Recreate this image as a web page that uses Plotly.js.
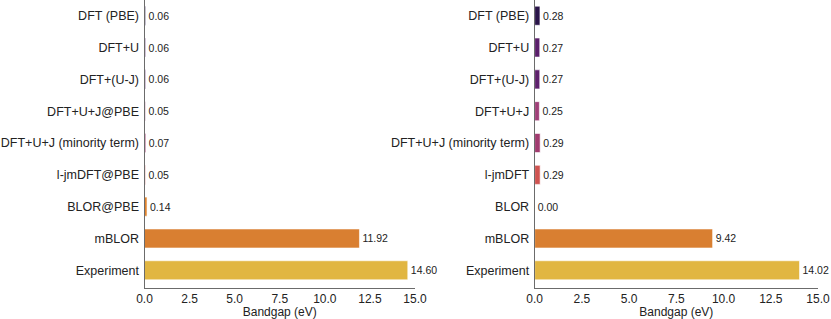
<!DOCTYPE html>
<html>
<head>
<meta charset="utf-8">
<script src="https://cdn.plot.ly/plotly-3.0.1.min.js"></script>
<style>html,body{margin:0;padding:0;background:#fff;}#chart{width:831px;height:319px;}</style>
</head>
<body>
<div id="chart"></div>
<script>
// Left panel
const leftCategories = ["DFT (PBE)", "DFT+U", "DFT+(U-J)", "DFT+U+J@PBE", "DFT+U+J (minority term)", "l-jmDFT@PBE", "BLOR@PBE", "mBLOR", "Experiment"];
const leftValues = [0.06, 0.06, 0.06, 0.05, 0.07, 0.05, 0.14, 11.92, 14.60];
const leftColors = ["#2a1449", "#5b1f6b", "#5e206c", "#a03f78", "#a13b6f", "#cf5350", "#e0832c", "#d97f31", "#e1b641"];

// Right panel
const rightCategories = ["DFT (PBE)", "DFT+U", "DFT+(U-J)", "DFT+U+J", "DFT+U+J (minority term)", "l-jmDFT", "BLOR", "mBLOR", "Experiment"];
const rightValues = [0.28, 0.27, 0.27, 0.25, 0.29, 0.29, 0.00, 9.42, 14.02];
const rightColors = ["#2a1449", "#5b1f6b", "#5e206c", "#a03f78", "#a13b6f", "#cf5350", "#e0832c", "#d97f31", "#e1b641"];

const xTicks = [0, 2.5, 5, 7.5, 10, 12.5, 15];
const xTickText = ["0.0", "2.5", "5.0", "7.5", "10.0", "12.5", "15.0"];

const FONT = "Liberation Sans, Arial, Helvetica, sans-serif";

function barTrace(cats, vals, cols, xa, ya) {
  return {
    type: "bar",
    orientation: "h",
    y: cats,
    x: vals,
    xaxis: xa,
    yaxis: ya,
    width: 0.6,
    marker: {color: cols, line: {color: "rgba(255,255,255,0.6)", width: 1}},
    text: vals.map(v => v.toFixed(2)),
    textposition: "outside",
    textfont: {family: FONT, size: 10.5, color: "#222"},
    cliponaxis: false,
    hoverinfo: "skip"
  };
}

function xAxis(domain, anchor) {
  return {
    domain: domain,
    anchor: anchor,
    range: [0, 15],
    tickvals: xTicks,
    ticktext: xTickText,
    ticks: "",
    showgrid: false,
    zeroline: false,
    showline: true,
    linecolor: "#6b6b6b",
    linewidth: 1,
    tickfont: {family: FONT, size: 12, color: "#222"},
    title: {text: "Bandgap (eV)", font: {family: FONT, size: 12, color: "#222"}, standoff: 2},
    automargin: false
  };
}

function yAxis(anchor) {
  return {
    anchor: anchor,
    domain: [0, 1],
    type: "category",
    range: [8.556, -0.494],
    ticks: "",
    showgrid: false,
    zeroline: false,
    showline: true,
    linecolor: "#6b6b6b",
    linewidth: 1,
    tickfont: {family: FONT, size: 12.5, color: "#222"},
    ticklabelstandoff: 2,
    automargin: false
  };
}

const data = [
  barTrace(leftCategories, leftValues, leftColors, "x", "y"),
  barTrace(rightCategories, rightValues, rightColors, "x2", "y2")
];

const layout = {
  width: 831,
  height: 319,
  margin: {l: 0, r: 0, t: 0, b: 31, pad: 0},
  paper_bgcolor: "#fff",
  plot_bgcolor: "#fff",
  showlegend: false,
  font: {family: FONT},
  xaxis: xAxis([0.1739, 0.4994], "y"),
  yaxis: yAxis("x"),
  xaxis2: xAxis([0.6434, 0.9844], "y2"),
  yaxis2: yAxis("x2")
};

Plotly.newPlot("chart", data, layout, {staticPlot: true, displayModeBar: false});
</script>
</body>
</html>
